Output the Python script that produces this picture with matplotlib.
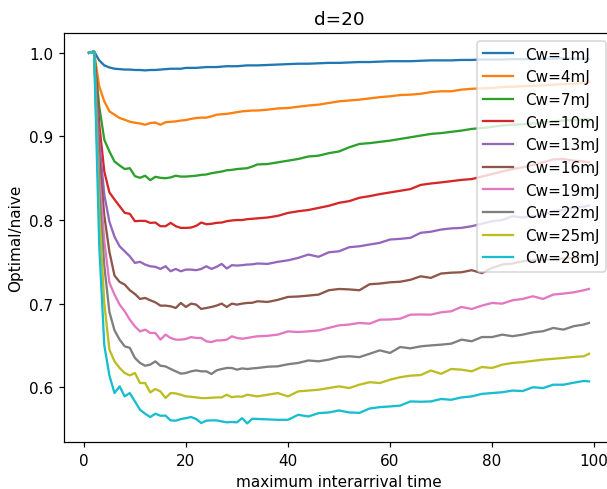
import matplotlib
matplotlib.use("Agg")
import matplotlib.pyplot as plt

# x grid (maximum interarrival time)
x_vals = list(range(1, 35)) + list(range(36, 99, 2)) + [99]

labels = ["Cw=1mJ", "Cw=4mJ", "Cw=7mJ", "Cw=10mJ", "Cw=13mJ",
          "Cw=16mJ", "Cw=19mJ", "Cw=22mJ", "Cw=25mJ", "Cw=28mJ"]

cw1 = [1.000, 1.0015, 0.991, 0.985, 0.9825, 0.981, 0.9805, 0.980, 0.980, 0.9795,
       0.9795, 0.979, 0.9795, 0.9795, 0.980, 0.9805, 0.981, 0.981, 0.981, 0.982,
       0.982, 0.982, 0.9825, 0.983, 0.983, 0.983, 0.9835, 0.984, 0.984, 0.984,
       0.9845, 0.985, 0.985, 0.985,
       0.9855, 0.986, 0.9865, 0.987, 0.987, 0.9875, 0.988, 0.988, 0.9885, 0.989,
       0.989, 0.9895, 0.990, 0.990, 0.990, 0.9905, 0.991, 0.991, 0.991, 0.9915,
       0.9915, 0.992, 0.992, 0.992, 0.9925, 0.9925, 0.9925, 0.993, 0.993, 0.9935,
       0.993, 0.993, 0.9925]

cw4 = [1.000, 1.0015, 0.960, 0.942, 0.930, 0.926, 0.922, 0.920, 0.9176, 0.9164,
       0.9155, 0.914, 0.916, 0.9166, 0.914, 0.917, 0.9175, 0.918, 0.919, 0.9196,
       0.921, 0.922, 0.9225, 0.9225, 0.924, 0.926, 0.9265, 0.927, 0.928, 0.929,
       0.930, 0.9305, 0.931, 0.931,
       0.932, 0.9335, 0.934, 0.9355, 0.937, 0.938, 0.940, 0.942, 0.943, 0.944,
       0.9455, 0.947, 0.948, 0.9495, 0.950, 0.951, 0.953, 0.954, 0.954, 0.956,
       0.957, 0.9575, 0.958, 0.959, 0.9595, 0.960, 0.9605, 0.961, 0.962, 0.9625,
       0.963, 0.964, 0.965]

cw7 = [1.000, 1.0015, 0.936, 0.896, 0.882, 0.870, 0.8653, 0.861, 0.862, 0.8525,
       0.8505, 0.853, 0.8477, 0.8517, 0.8505, 0.850, 0.851, 0.853, 0.852, 0.852,
       0.8525, 0.853, 0.854, 0.8545, 0.856, 0.857, 0.858, 0.8595, 0.860, 0.861,
       0.8615, 0.862, 0.864, 0.8665,
       0.867, 0.869, 0.871, 0.873, 0.876, 0.877, 0.880, 0.882, 0.887, 0.891,
       0.892, 0.8935, 0.895, 0.897, 0.899, 0.901, 0.903, 0.904, 0.9055, 0.907,
       0.909, 0.910, 0.9115, 0.913, 0.914, 0.9145, 0.9155, 0.9165, 0.918, 0.919,
       0.920, 0.9205, 0.921]

cw10 = [1.000, 1.0015, 0.915, 0.858, 0.833, 0.8246, 0.8165, 0.8086, 0.8074, 0.7986,
        0.799, 0.799, 0.7966, 0.797, 0.7926, 0.7926, 0.7966, 0.7926, 0.7906, 0.7906,
        0.791, 0.793, 0.797, 0.795, 0.7955, 0.7966, 0.797, 0.7986, 0.7995, 0.800,
        0.800, 0.801, 0.8015, 0.802,
        0.803, 0.805, 0.8085, 0.8105, 0.812, 0.8145, 0.817, 0.8206, 0.8226, 0.8266,
        0.8286, 0.831, 0.833, 0.835, 0.837, 0.842, 0.8437, 0.845, 0.8465, 0.848,
        0.849, 0.852, 0.855, 0.858, 0.861, 0.863, 0.866, 0.869, 0.8725, 0.873,
        0.871, 0.870, 0.869]

cw13 = [1.000, 1.0015, 0.895, 0.830, 0.798, 0.780, 0.7686, 0.7626, 0.7566, 0.7487,
        0.750, 0.7467, 0.7447, 0.744, 0.7415, 0.7447, 0.7387, 0.7415, 0.7387, 0.7407,
        0.7407, 0.740, 0.7415, 0.7447, 0.7415, 0.744, 0.7475, 0.742, 0.746, 0.7455,
        0.746, 0.7467, 0.747, 0.748,
        0.7475, 0.750, 0.7518, 0.7547, 0.7587, 0.756, 0.7614, 0.7626, 0.7675, 0.7686,
        0.7707, 0.7727, 0.7767, 0.7775, 0.7787, 0.7847, 0.786, 0.7886, 0.790, 0.7906,
        0.7926, 0.7955, 0.7986, 0.800, 0.8046, 0.803, 0.8046, 0.806, 0.8106, 0.812,
        0.8146, 0.816, 0.8174]

cw16 = [1.000, 1.0015, 0.875, 0.805, 0.762, 0.7335, 0.726, 0.7228, 0.716, 0.7115,
        0.7056, 0.7068, 0.704, 0.7016, 0.6976, 0.6976, 0.6968, 0.6948, 0.7008, 0.696,
        0.700, 0.6988, 0.6936, 0.6948, 0.696, 0.6976, 0.700, 0.696, 0.700, 0.6988,
        0.700, 0.7008, 0.701, 0.7028,
        0.702, 0.7045, 0.708, 0.7085, 0.7096, 0.7108, 0.716, 0.7175, 0.717, 0.716,
        0.7232, 0.724, 0.7255, 0.7262, 0.7285, 0.7327, 0.7308, 0.736, 0.737, 0.7375,
        0.740, 0.7365, 0.7428, 0.7467, 0.748, 0.7506, 0.752, 0.7527, 0.753, 0.754,
        0.7547, 0.757, 0.7587]

cw19 = [1.000, 1.0015, 0.855, 0.775, 0.725, 0.7108, 0.6988, 0.6908, 0.6808, 0.6728,
        0.6668, 0.6689, 0.6649, 0.6649, 0.6569, 0.6629, 0.6589, 0.6569, 0.6569, 0.6577,
        0.660, 0.6589, 0.6589, 0.6549, 0.654, 0.656, 0.656, 0.6569, 0.6609, 0.6589,
        0.658, 0.6589, 0.660, 0.6609,
        0.6615, 0.6629, 0.6668, 0.666, 0.6668, 0.668, 0.671, 0.674, 0.675, 0.6769,
        0.676, 0.6808, 0.681, 0.682, 0.6868, 0.687, 0.6868, 0.6896, 0.6908, 0.696,
        0.6936, 0.6976, 0.7008, 0.700, 0.704, 0.7056, 0.7088, 0.7056, 0.7108, 0.712,
        0.7135, 0.716, 0.7176]

cw22 = [1.000, 1.0015, 0.835, 0.745, 0.690, 0.668, 0.6569, 0.6489, 0.647, 0.635,
        0.629, 0.6257, 0.627, 0.6309, 0.6257, 0.6249, 0.6218, 0.619, 0.6162, 0.617,
        0.619, 0.6201, 0.619, 0.619, 0.6158, 0.6201, 0.6218, 0.623, 0.623, 0.621,
        0.6225, 0.6218, 0.6225, 0.623,
        0.6245, 0.625, 0.6275, 0.629, 0.632, 0.631, 0.633, 0.6362, 0.637, 0.636,
        0.640, 0.6441, 0.641, 0.6481, 0.6465, 0.6489, 0.650, 0.6509, 0.6521, 0.6569,
        0.655, 0.660, 0.660, 0.6629, 0.661, 0.6629, 0.6656, 0.667, 0.6709, 0.6689,
        0.673, 0.675, 0.6769]

cw25 = [1.000, 1.0015, 0.810, 0.700, 0.645, 0.631, 0.623, 0.617, 0.6141, 0.617,
        0.605, 0.605, 0.5938, 0.5978, 0.595, 0.5871, 0.593, 0.5926, 0.591, 0.589,
        0.5886, 0.5878, 0.587, 0.587, 0.5874, 0.5878, 0.5878, 0.591, 0.588, 0.589,
        0.5886, 0.591, 0.590, 0.589,
        0.591, 0.593, 0.589, 0.595, 0.596, 0.597, 0.599, 0.601, 0.599, 0.603,
        0.606, 0.605, 0.609, 0.612, 0.6138, 0.6145, 0.620, 0.616, 0.6218, 0.621,
        0.619, 0.6242, 0.623, 0.627, 0.629, 0.630, 0.6315, 0.633, 0.634, 0.635,
        0.6362, 0.637, 0.640]

cw28 = [1.000, 1.0015, 0.770, 0.650, 0.614, 0.593, 0.601, 0.589, 0.593, 0.583,
        0.573, 0.5683, 0.5643, 0.5683, 0.5659, 0.566, 0.5603, 0.560, 0.5619, 0.563,
        0.5643, 0.562, 0.5571, 0.560, 0.5603, 0.5603, 0.5591, 0.558, 0.5584, 0.558,
        0.563, 0.5567, 0.5623, 0.562,
        0.5615, 0.561, 0.561, 0.567, 0.565, 0.569, 0.5698, 0.5722, 0.5698, 0.5693,
        0.5745, 0.5762, 0.577, 0.578, 0.583, 0.5826, 0.583, 0.5859, 0.585, 0.5878,
        0.589, 0.592, 0.593, 0.594, 0.596, 0.5954, 0.600, 0.599, 0.603, 0.603,
        0.6054, 0.6075, 0.607]

series = [cw1, cw4, cw7, cw10, cw13, cw16, cw19, cw22, cw25, cw28]

DPI = 110
fig = plt.figure(figsize=(607 / DPI, 490 / DPI), dpi=DPI)
ax = fig.add_axes([64 / 607, 47 / 490, 550 / 607, 409 / 490])
for lab, ys in zip(labels, series):
    ax.plot(x_vals, ys, label=lab)

ax.set_title("d=20")
ax.set_xlabel("maximum interarrival time")
ax.set_ylabel("Optimal/naive")
ax.set_xticks([0, 20, 40, 60, 80, 100])
ax.set_yticks([0.6, 0.7, 0.8, 0.9, 1.0])
ax.legend(loc="upper right")

fig.savefig("out.png", dpi=DPI)
